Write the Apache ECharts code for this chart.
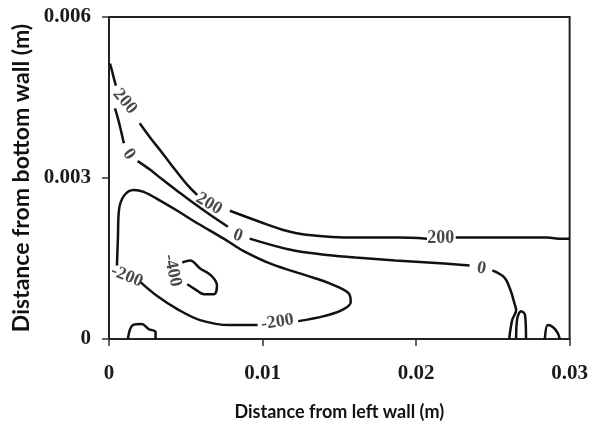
<!DOCTYPE html>
<html>
<head>
<meta charset="utf-8">
<script src="https://cdn.jsdelivr.net/npm/echarts@6/dist/echarts.min.js"></script>
<style>html,body{margin:0;padding:0;background:#fff}#c{width:591px;height:426px}</style>
</head>
<body>
<div id="c"></div>
<script>
// Axis ticks
var xTicks = [0, 0.01, 0.02, 0.03];
var yTicks = [0, 0.003, 0.006];

// Contour level 200 (segments split at labels)
var c200_a = [[0.000065,0.005130],[0.000194,0.005000],[0.000323,0.004852],[0.000452,0.004722]];
var c200_b = [[0.002000,0.004019],[0.002710,0.003741],[0.003484,0.003463],[0.004323,0.003148],[0.005161,0.002852],[0.005742,0.002685]];
var c200_c = [[0.007871,0.002389],[0.009806,0.002185],[0.011290,0.002037],[0.012839,0.001944],[0.016065,0.001889],[0.018839,0.001889],[0.020710,0.001870]];
var c200_d = [[0.022581,0.001889],[0.025290,0.001889],[0.028516,0.001889],[0.029484,0.001870],[0.030000,0.001870]];

// Contour level 0
var c0_a = [[0.000387,0.004296],[0.000581,0.004111],[0.000774,0.003889],[0.000968,0.003648]];
var c0_b = [[0.001871,0.003315],[0.002710,0.003148],[0.003355,0.003000],[0.004452,0.002759],[0.005484,0.002537],[0.006581,0.002315],[0.007742,0.002093]];
var c0_c = [[0.009161,0.001870],[0.011742,0.001667],[0.013871,0.001574],[0.016065,0.001519],[0.018645,0.001463],[0.020774,0.001426],[0.023484,0.001370]];
var c0_d = [[0.024968,0.001278],[0.025742,0.001148],[0.026129,0.000926],[0.026387,0.000685],[0.026516,0.000537],[0.026258,0.000352],[0.026065,0.000000]];
var c0_loop = [[0.026516,0.000000],[0.026581,0.000370],[0.026839,0.000519],[0.027097,0.000444],[0.027161,0.000000]];

// Contour level -200 (closed loop split at two labels)
var cm200_a = [[0.002065,0.001056],[0.003161,0.000796],[0.004452,0.000556],[0.005935,0.000352],[0.007871,0.000259],[0.009677,0.000259]];
var cm200_b = [[0.012323,0.000333],[0.014000,0.000426],[0.015161,0.000537],[0.015742,0.000685],[0.015613,0.000852],[0.014516,0.001019],[0.012839,0.001185],[0.010645,0.001389],[0.008710,0.001648],[0.007677,0.001833],[0.006581,0.002019],[0.005484,0.002204],[0.004452,0.002389],[0.003355,0.002574],[0.002258,0.002741],[0.001613,0.002778],[0.000968,0.002667],[0.000645,0.002389],[0.000581,0.001889],[0.000516,0.001370]];

// Contour level -400
var cm400 = [[0.004774,0.001426],[0.005290,0.001463],[0.005935,0.001315],[0.006645,0.001185],[0.007032,0.001000],[0.006839,0.000833],[0.006194,0.000833],[0.005613,0.000926],[0.005097,0.001019]];

// Small wall loops near the bottom
var loopBL = [[0.001226,0.000000],[0.001548,0.000259],[0.002129,0.000278],[0.002581,0.000185],[0.003032,0.000130],[0.003032,0.000000]];
var loopBR = [[0.028387,0.000000],[0.028581,0.000259],[0.028903,0.000222],[0.029226,0.000111],[0.029355,0.000000]];

// Contour labels: text, position, rotation
var labelText = ['200', '0', '200', '0', '200', '0', '-200', '-200', '-400'];
var labelPos = [[0.001032,0.004426],[0.001290,0.003444],[0.006516,0.002519],[0.008387,0.001926],[0.021613,0.001870],[0.024258,0.001315],[0.001161,0.001167],[0.010968,0.000315],[0.004129,0.001278]];
var labelRot = [-50, -55, -31, -20, 0, -10, -22, 9, -77];

var segments = [c200_a, c200_b, c200_c, c200_d, c0_a, c0_b, c0_c, c0_d, c0_loop, cm200_a, cm200_b, cm400, loopBL, loopBR];

var series = segments.map(function (seg) {
  return {
    type: 'line', data: seg, showSymbol: false, smooth: 0.35, silent: true,
    lineStyle: { color: '#111', width: 2.5 }, z: 3
  };
});
series.push({
  type: 'scatter', symbolSize: 0, silent: true, z: 5,
  data: labelText.map(function (t, i) {
    return { name: t, value: labelPos[i], label: { rotate: labelRot[i] } };
  }),
  label: {
    show: true, position: 'inside', formatter: '{b}',
    fontFamily: 'Liberation Serif', fontWeight: 'bold', fontSize: 18, color: '#1a1a1a'
  }
});

var chart = echarts.init(document.getElementById('c'), null, { renderer: 'canvas' });
chart.setOption({
  animation: false,
  backgroundColor: '#fff',
  grid: { left: 109, right: 19, top: 17, bottom: 84, show: true, borderColor: '#222', borderWidth: 2 },
  xAxis: {
    type: 'value', min: xTicks[0], max: xTicks[xTicks.length - 1], interval: 0.01,
    name: 'Distance from left wall (m)', nameLocation: 'middle', nameGap: 64,
    nameTextStyle: { fontFamily: 'Lato', fontWeight: 'bold', fontSize: 18, color: '#111' },
    axisLine: { show: true, lineStyle: { color: '#222', width: 2 } },
    axisTick: { show: true, inside: false, length: 7, lineStyle: { color: '#333', width: 1.5 } },
    axisLabel: { margin: 24, fontFamily: 'Liberation Serif', fontWeight: 'bold', fontSize: 21, color: '#1a1a1a',
      formatter: function (v) { return String(+v.toFixed(3)); } },
    splitLine: { show: false }
  },
  yAxis: {
    type: 'value', min: yTicks[0], max: yTicks[yTicks.length - 1], interval: 0.003,
    name: 'Distance from bottom wall (m)', nameLocation: 'middle', nameGap: 74,
    nameTextStyle: { fontFamily: 'Lato', fontWeight: 'bold', fontSize: 23, color: '#111' },
    axisLine: { show: true, lineStyle: { color: '#222', width: 2 } },
    axisTick: { show: true, inside: false, length: 7, lineStyle: { color: '#333', width: 1.5 } },
    axisLabel: { margin: 18, fontFamily: 'Liberation Serif', fontWeight: 'bold', fontSize: 21, color: '#1a1a1a',
      formatter: function (v) { return String(+v.toFixed(4)); } },
    splitLine: { show: false }
  },
  series: series
});
</script>
</body>
</html>
